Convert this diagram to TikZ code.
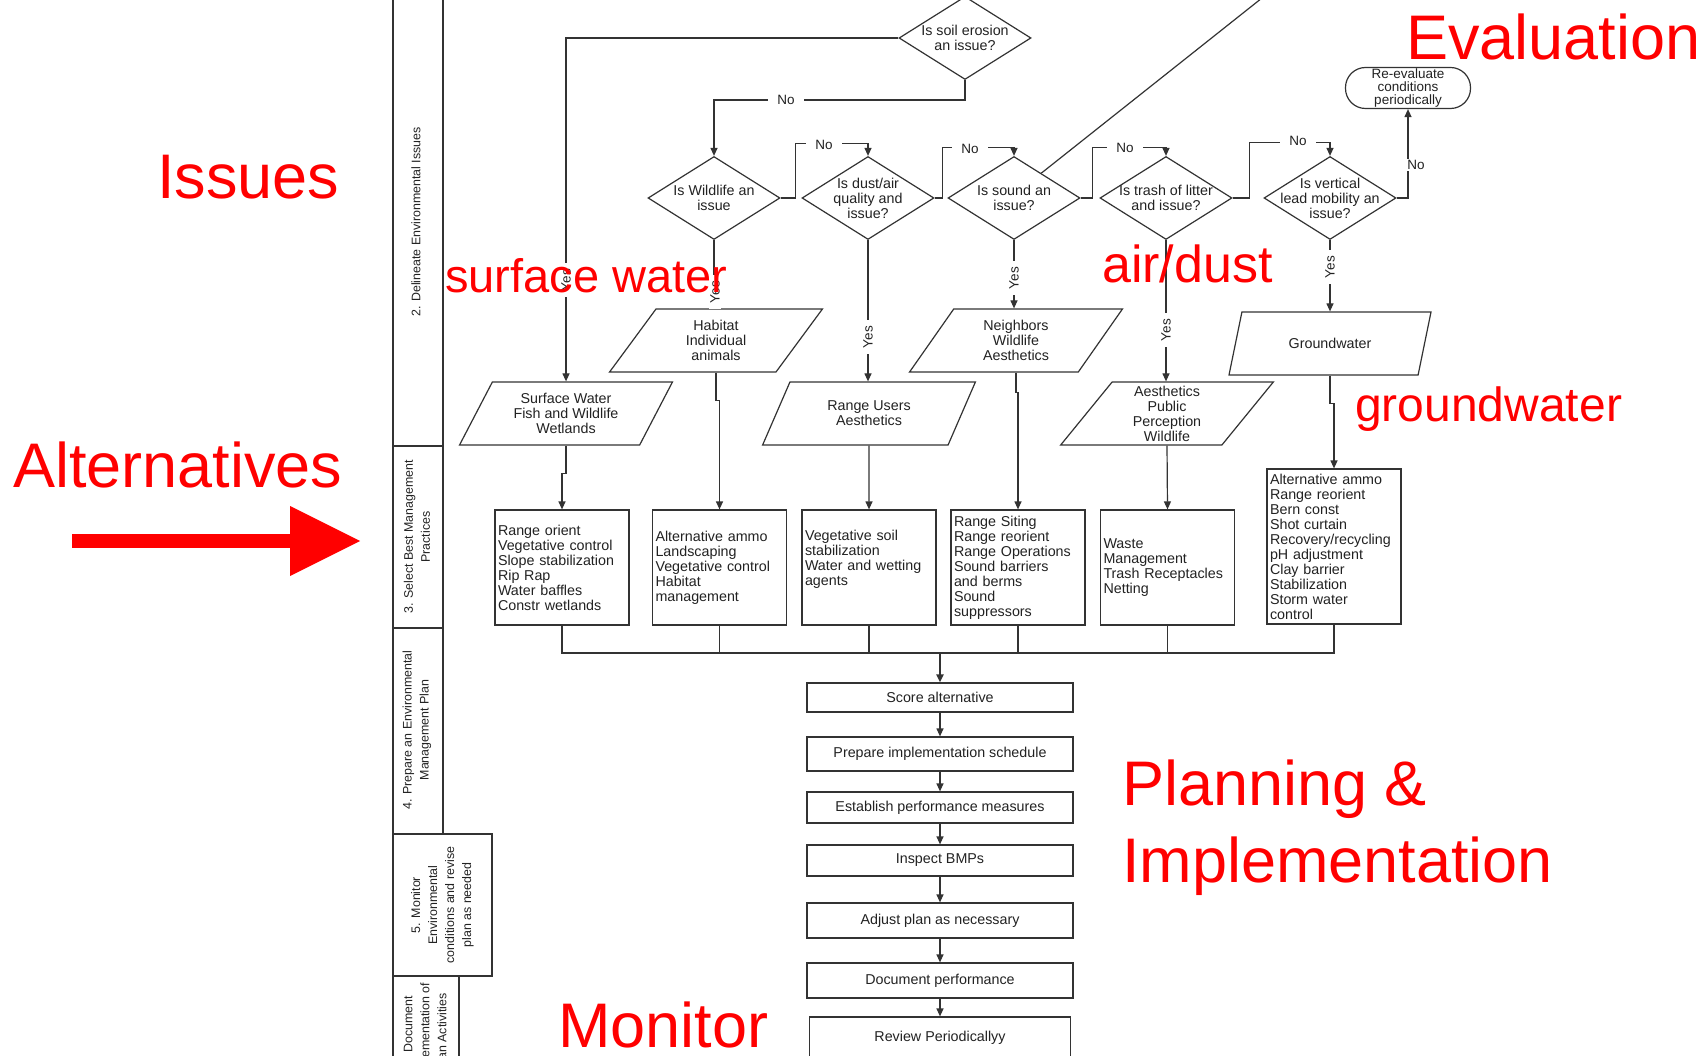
\documentclass[tikz,border=0pt]{standalone}
\usepackage{fontspec}
\setmainfont{Liberation Sans}
\usetikzlibrary{shapes.geometric,arrows.meta,calc}
\definecolor{ln}{HTML}{333333}
\definecolor{tx}{HTML}{222222}
\tikzset{
  base/.style={draw=ln, line width=1.2pt, text=tx, font=\fontsize{14.3}{15}\selectfont},
  dia/.style={base, shape=diamond, minimum width=132pt, minimum height=83pt, inner sep=0pt},
  diatext/.style={align=center, text=tx, font=\fontsize{14.3}{15}\selectfont},
  para/.style={base, trapezium, trapezium left angle=60, trapezium right angle=120,
     trapezium stretches=true, minimum width=213pt, minimum height=63pt, align=center, inner sep=0pt},
  bmp/.style={base, rectangle, minimum width=134pt, minimum height=115pt, text width=128pt, align=left, inner sep=3pt},
  mbox/.style={base, rectangle, minimum width=266pt, align=center, inner sep=0pt},
  term/.style={base, rectangle, rounded corners=20pt, minimum width=125pt, minimum height=41pt, align=center, inner sep=0pt,
     font=\fontsize{13.5}{12.8}\selectfont},
  conn/.style={draw=ln, line width=1.2pt},
  arr/.style={conn, -{Triangle[length=8pt,width=7pt]}},
  yeslbl/.style={fill=white, inner xsep=6pt, inner ysep=1pt, rotate=90, text=tx, font=\fontsize{13.5}{13.5}\selectfont},
  nolbl/.style={fill=white, inner xsep=9pt, inner ysep=1pt, text=tx, font=\fontsize{13.5}{13.5}\selectfont},
  lane/.style={draw=ln, line width=1.2pt},
  lanetext/.style={rotate=90, align=center, text=tx, font=\fontsize{12.4}{17}\selectfont},
  redbig/.style={anchor=base west, inner sep=0pt, text=red, font=\fontsize{63}{63}\selectfont},
}
\begin{document}
\begin{tikzpicture}[x=1pt,y=-1pt]
\useasboundingbox (0,0) rectangle (1703,1056);
\fill[white] (0,0) rectangle (1703,1056);
\clip (0,0) rectangle (1703,1056);

% ---- lanes
\draw[lane] (393,0) -- (393,1056);
\draw[lane] (443,0) -- (443,834) -- (492,834) -- (492,976) -- (459,976) -- (459,1056);
\draw[lane] (393,446) -- (443,446);
\draw[lane] (393,628) -- (443,628);
\draw[lane] (393,834) -- (443,834);
\draw[lane] (393,976) -- (492,976);
\node[lanetext] (l2) at (416,222) {2. Delineate Environmental Issues};
\node[lanetext] (l3) at (417,537) {3. Select Best Management\\Practices};
\node[lanetext] (l4) at (417,730) {4. Prepare an Environmental\\Management Plan};
\node[lanetext] (l5) at (442.5,905) {5. Monitor\\Environmental\\conditions and revise\\plan as needed};
\node[lanetext] (l6) at (425,1032) {6. Document\\Implementation of\\Plan Activities};

% ---- decisions
\node[dia] (d0) at (965,38) {};
\node[diatext] at (d0) {Is soil erosion\\an issue?};
\node[dia] (d1) at (714,198) {};
\node[diatext] at (d1) {Is Wildlife an\\issue};
\node[dia] (d2) at (868,198) {};
\node[diatext] at (d2) {Is dust/air\\quality and\\issue?};
\node[dia] (d3) at (1014,198) {};
\node[diatext] at (d3) {Is sound an\\issue?};
\node[dia] (d4) at (1166,198) {};
\node[diatext] at (d4) {Is trash of litter\\and issue?};
\node[dia] (d5) at (1330,198) {};
\node[diatext] at (d5) {Is vertical\\lead mobility an\\issue?};
\node[term] (re) at (1408,88) {Re-evaluate\\conditions\\periodically};

% ---- data
\node[para] (p1) at (566,413.5) {Surface Water\\Fish and Wildlife\\Wetlands};
\node[para] (p2) at (716,340.5) {Habitat\\Individual\\animals};
\node[para] (p3) at (869,413.5) {Range Users\\Aesthetics};
\node[para] (p4) at (1016,340.5) {Neighbors\\Wildlife\\Aesthetics};
\node[para] (p5) at (1167,413.5) {Aesthetics\\Public\\Perception\\Wildlife};
\node[para, minimum width=203pt] (p6) at (1330,343.5) {Groundwater};

% ---- BMP boxes
\node[bmp] (b1) at (562,567.5) {Range orient\\Vegetative control\\Slope stabilization\\Rip Rap\\Water baffles\\Constr wetlands};
\node[bmp] (b2) at (719.5,567.5) {Alternative ammo\\Landscaping\\Vegetative control\\Habitat\\management};
\node[bmp] (b3) at (869,567.5) {Vegetative soil\\stabilization\\Water and wetting\\agents\\\strut};
\node[bmp] (b4) at (1018,567.5) {Range Siting\\Range reorient\\Range Operations\\Sound barriers\\and berms\\Sound\\suppressors};
\node[bmp] (b5) at (1167.5,567.5) {Waste\\Management\\Trash Receptacles\\Netting};
\node[bmp, minimum height=155pt] (b6) at (1334,546.5) {Alternative ammo\\Range reorient\\Bern const\\Shot curtain\\Recovery/recycling\\pH adjustment\\Clay barrier\\Stabilization\\Storm water\\control};

% ---- main column
\node[mbox, minimum height=29pt] (m1) at (940,697.5) {Score alternative};
\node[mbox, minimum height=34pt] (m2) at (940,754) {Prepare implementation schedule};
\node[mbox, minimum height=31pt] (m3) at (940,807.5) {Establish performance measures};
\node[mbox, minimum height=31pt] (m4) at (940,860.5) {Inspect BMPs};
\node[mbox, minimum height=35pt] (m5) at (940,920.5) {Adjust plan as necessary};
\node[mbox, minimum height=35pt] (m6) at (940,980.5) {Document performance};
\node[mbox, minimum width=261pt, minimum height=42pt] (m7) at (940,1038) {Review Periodicallyy};
\coordinate (mg) at (940,653);

% ---- connectors
\draw[arr] (d0.west) -| (p1.north);
\draw[arr] (d0.south) -- ++(0,20) -| (d1.north);
\draw[arr] (d1.east) -- ++(15,0) |- ($(d2.north)+(0,-12)$) -- (d2.north);
\draw[arr] (d2.east) -- ++(8,0) |- ($(d3.north)+(0,-8)$) -- (d3.north);
\draw[arr] (d3.east) -- ++(12,0) |- ($(d4.north)+(0,-8.5)$) -- (d4.north);
\draw[arr] (d4.east) -- ++(17,0) |- ($(d5.north)+(0,-13.5)$) -- (d5.north);
\draw[arr] (d5.east) -| (re.south);
\draw[conn] ($(d3.north)!0.41!(d3.east)$) -- (1262,-2);

\draw[conn] (d1.south) -- (d1.south |- p2.north);
\draw[arr] (d2.south) -- (d2.south |- p3.north);
\draw[arr] (d3.south) -- (d3.south |- p4.north);
\draw[arr] (d4.south) -- (d4.south |- p5.north);
\draw[arr] (d5.south) -- (d5.south |- p6.north);

\draw[arr] (p1.south) -- ++(0,28) -| (b1.north);
\draw[arr] (p2.south) -- ++(0,28) -| (b2.north);
\draw[arr] (p3.south) -- (b3.north);
\draw[arr] (p4.south) -- ++(0,20) -| (b4.north);
\draw[arr] (p5.south) -- (b5.north);
\draw[arr] (p6.south) -- ++(0,28) -| (b6.north);

\foreach \b in {b1,b2,b3,b4,b5,b6} \draw[conn] (\b.south) |- (mg);
\draw[conn, line width=2pt] (b2.south |- mg) -- (b4.south |- mg);
\draw[arr, line width=2pt] (mg) -- (m1.north);
\draw[arr] (m1) -- (m2);
\draw[arr] (m2) -- (m3);
\draw[arr] (m3) -- (m4);
\draw[arr] (m4) -- (m5);
\draw[arr] (m5) -- (m6);
\draw[arr] (m6) -- (m7);

% ---- labels
\node[nolbl] (n0) at (786,100) {No};
\node[nolbl] (n1) at (824,145) {No};
\node[nolbl] (n2) at (970,149) {No};
\node[nolbl] (n3) at (1125,148) {No};
\node[nolbl] (n4) at (1298,141) {No};
\node[nolbl, inner xsep=2pt] (n5) at (1416,165) {No};
\node[yeslbl] (y1) at (566,280) {Yes};
\node[yeslbl] (y2) at (715,292) {Yes};
\node[yeslbl] (y3) at (868,337) {Yes};
\node[yeslbl] (y4) at (1014,278) {Yes};
\node[yeslbl] (y5) at (1166,330) {Yes};
\node[yeslbl] (y6) at (1330,267) {Yes};

% ---- red annotations
\node[redbig] (t1) at (1406,60) {Evaluation};
\node[redbig] (t2) at (157,199) {Issues};
\node[redbig] (t3) at (13,487) {Alternatives};
\node[redbig, font=\fontsize{47}{47}\selectfont] (t4) at (445,293) {surface water};
\node[redbig, font=\fontsize{52}{52}\selectfont] (t5) at (1102,283) {air/dust};
\node[redbig, font=\fontsize{48}{48}\selectfont] (t6) at (1355,422) {groundwater};
\node[redbig] (t7) at (1122,805) {Planning \&};
\node[redbig] (t8) at (1122,882) {Implementation};
\node[redbig] (t9) at (558,1047) {Monitor};
\fill[red] (72,534) rectangle (292,547.5);
\fill[red] (290,506) -- (360,541) -- (290,576) -- cycle;
\end{tikzpicture}
\end{document}
